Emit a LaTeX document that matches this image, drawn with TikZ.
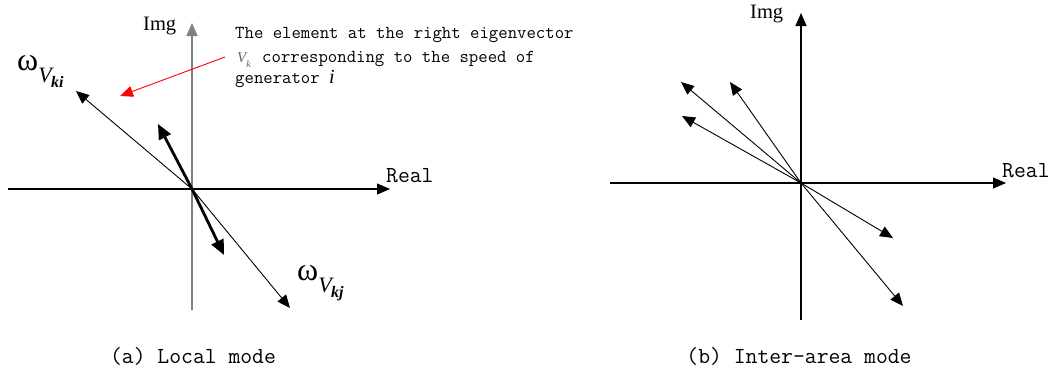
\documentclass[tikz,border=0pt]{standalone}
\usepackage{fontspec}
\newfontfamily\timesf{Liberation Serif}
\usetikzlibrary{arrows.meta}
\begin{document}
\begin{tikzpicture}[x=1pt,y=-1pt,
  axis/.style={line width=1.1pt,-{Triangle[length=13pt,width=11pt]}},
  vec/.style={line width=0.9pt,-{Triangle[length=13pt,width=11pt]}},
  thickvec/.style={line width=2.8pt,-{Triangle[length=15pt,width=13pt]}},
  redvec/.style={red,line width=0.9pt,-{Triangle[length=13pt,width=11pt]}},
  mono/.style={font=\fontsize{18.25}{20}\ttfamily\addfontfeatures{FakeBold=0.6},inner sep=0pt},
  axlabel/.style={font=\fontsize{23}{25}\ttfamily\addfontfeatures{FakeBold=0.6},inner sep=0pt},
  imglabel/.style={font=\fontsize{20.5}{24}\timesf,inner sep=0pt},
  caption/.style={font=\fontsize{23}{25}\ttfamily\addfontfeatures{FakeBold=0.6},inner sep=0pt},
  omlabel/.style={font=\timesf,inner sep=0pt}]
\newcommand{\omsub}[1]{{\fontsize{32}{34}\selectfont ω}\raisebox{-12pt}{\fontsize{22}{24}\selectfont\itshape V}\kern-0.5pt\raisebox{-17pt}{\fontsize{16}{18}\selectfont\bfseries\itshape #1}}
\useasboundingbox (0,0) rectangle (1056,372);

% ---------- panel (a) ----------
\coordinate (oa) at (192,189);
\coordinate (aL) at (8,189);
\coordinate (aR) at (390,189);
\coordinate (aT) at (192,23);
\coordinate (aB) at (192,310);
\draw[line width=1.1pt] (aL) -- (oa);
\draw[axis] (oa) -- (aR);
\draw[axis,gray] (aB) -- (aT);

\coordinate (wki) at (76,91);
\coordinate (wkj) at (290,308);
\coordinate (ta) at (158,124);
\coordinate (tb) at (224,255);
\draw[vec] (oa) -- (wki);
\draw[vec] (oa) -- (wkj);
\draw[thickvec] (oa) -- (ta);
\draw[thickvec] (oa) -- (tb);

\node[imglabel,anchor=base west] (imga) at (143,30) {Img};
\node[axlabel,anchor=base west] (reala) at (386,182) {Real};

\node[omlabel,anchor=base west] (omki) at (17,70) {\omsub{ki}};
\node[omlabel,anchor=base west] (omkj) at (297,280) {\omsub{kj}};

\node[mono,anchor=base west] (t1) at (235,38) {The element at the right eigenvector};
\node[inner sep=0pt,anchor=base west,font=\fontsize{15}{16}\timesf\itshape,text=black!60] (vk) at (237,62) {V\raisebox{-5pt}{\fontsize{10}{10}\selectfont k}};
\node[mono,anchor=base west] (t2) at (262,62) {corresponding to the speed of};
\node[mono,anchor=base west] (t3) at (235,83) {generator {\fontsize{20}{20}\timesf\itshape i}};

\coordinate (rs) at (225,57);
\coordinate (re) at (120,96);
\draw[redvec] (rs) -- (re);

\node[caption,anchor=base] (capa) at (193,363) {(a) Local mode};

% ---------- panel (b) ----------
\coordinate (ob) at (801,183);
\coordinate (bL) at (610,183);
\coordinate (bR) at (1006,183);
\coordinate (bT) at (801,13);
\coordinate (bB) at (801,320);
\draw[line width=1.1pt] (bL) -- (ob);
\draw[axis] (ob) -- (bR);
\draw[line width=1.1pt] (bB) -- (ob);
\draw[axis] (ob) -- (bT);

\coordinate (b1) at (681,82);
\coordinate (b2) at (730,82);
\coordinate (b3) at (682,116);
\coordinate (b4) at (893,238);
\coordinate (b5) at (903,306);
\foreach \p in {b1,b2,b3,b4,b5} \draw[vec] (ob) -- (\p);

\node[imglabel,anchor=base west] (imgb) at (750,18) {Img};
\node[axlabel,anchor=base west] (realb) at (1002,177) {Real};

\node[caption,anchor=base] (capb) at (799,363) {(b) Inter-area mode};
\end{tikzpicture}
\end{document}
